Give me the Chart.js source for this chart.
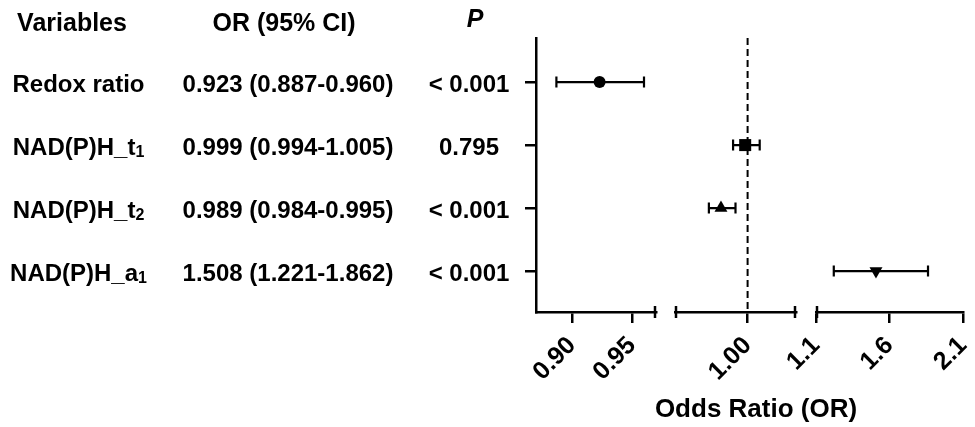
<!DOCTYPE html>
<html>
<head>
<meta charset="utf-8">
<script src="https://cdn.jsdelivr.net/npm/chart.js@4.4.0/dist/chart.umd.min.js"></script>
<style>
  html, body { margin: 0; padding: 0; background: #fff; }
  #wrap { width: 975px; height: 427px; position: relative; }
</style>
</head>
<body>
<div id="wrap"><canvas id="forest"></canvas></div>
<script>
// table rows
const variables = ['Redox ratio', 'NAD(P)H_t', 'NAD(P)H_t', 'NAD(P)H_a'];
const subscripts = ['', '1', '2', '1'];
const orValues = [0.923, 0.999, 0.989, 1.508];
const ciLower = [0.887, 0.994, 0.984, 1.221];
const ciUpper = [0.960, 1.005, 0.995, 1.862];
const pValues = ['< 0.001', '0.795', '< 0.001', '< 0.001'];
const markerStyles = ['circle', 'rect', 'triangle', 'triangle'];
const markerRotation = [0, 0, 0, 180];

// broken x axis, three pieces
const segMin = [0.87, 0.97, 1.1];
const segMax = [0.97, 1.02, 2.1];
const segTicks = [[0.90, 0.95], [1.00], [1.1, 1.6, 2.1]];
const segTickLabels = [['0.90', '0.95'], ['1.00'], ['1.1', '1.6', '2.1']];
const refLine = 1.0;

const FONT = "'Liberation Sans', Arial, sans-serif";
const markerSizes = [6, 8.5, 7.5, 7.5];

function segOf(v) {
    for (let s = 0; s < segMin.length; s++) {
        if (v >= segMin[s] && v <= segMax[s]) return s;
    }
    return segMin.length - 1;
}

// pieces + gaps laid side by side as one stack of bottom axes
const pieceWidths = [120, 19, 121, 20, 147];
const scales = {
    y: {
        type: 'linear',
        position: 'left',
        reverse: true,
        min: 0.3,
        max: 4.65,
        afterBuildTicks: s => { s.ticks = variables.map((v, i) => ({ value: i + 1 })); },
        afterFit: s => { s.width = 11; },
        ticks: { display: false },
        grid: { drawOnChartArea: false, tickLength: 11, lineWidth: 2.5, color: '#000' },
        border: { display: true, color: '#000', width: 2.5 }
    }
};

const xFit = s => { s.height = 115; s.paddingLeft = 0; s.paddingRight = 0; };
pieceWidths.forEach((pw, k) => {
    const isGap = k % 2 === 1;
    const s = k / 2;
    const id = isGap ? 'gap' + k : 'x' + s;
    scales[id] = isGap ? {
        type: 'linear', axis: 'x', position: 'bottom', stack: 'xs', stackWeight: pw, weight: k,
        min: 0, max: 1,
        afterFit: xFit,
        ticks: { display: false },
        grid: { display: false },
        border: { display: false }
    } : {
        type: 'linear', axis: 'x', position: 'bottom', stack: 'xs', stackWeight: pw, weight: k,
        min: segMin[s],
        max: segMax[s],
        afterBuildTicks: sc => { sc.ticks = segTicks[s].map(v => ({ value: v })); },
        afterFit: xFit,
        ticks: {
            autoSkip: false,
            minRotation: 45,
            maxRotation: 45,
            padding: 8,
            color: '#000',
            font: { family: FONT, size: 25, weight: 'bold' },
            callback: (value, index) => segTickLabels[s][index]
        },
        grid: { drawOnChartArea: false, tickLength: 11, lineWidth: 2.5, color: '#000' },
        border: { display: true, color: '#000', width: 2.5 }
    };
});

const datasets = segMin.map((mn, s) => ({
    type: 'scatter',
    xAxisID: 'x' + s,
    yAxisID: 'y',
    data: orValues.map((v, i) => ({ x: v, y: i + 1, lo: ciLower[i], hi: ciUpper[i], row: i }))
        .filter(p => segOf(p.x) === s),
    pointStyle: c => c.raw ? markerStyles[c.raw.row] : 'circle',
    rotation: c => c.raw ? markerRotation[c.raw.row] : 0,
    pointRadius: c => c.raw ? markerSizes[c.raw.row] : 6,
    backgroundColor: '#000',
    borderColor: '#000',
    borderWidth: 0
}));

// dashed line at OR = 1 and CI whiskers
const forestLines = {
    id: 'forestLines',
    beforeDatasetsDraw(chart) {
        const ctx = chart.ctx;
        const y = chart.scales.y;
        const area = chart.chartArea;
        ctx.save();
        ctx.strokeStyle = '#000';
        ctx.lineWidth = 2;

        const xr = chart.scales['x' + segOf(refLine)].getPixelForValue(refLine);
        ctx.setLineDash([7, 4]);
        ctx.beginPath();
        ctx.moveTo(xr, area.top);
        ctx.lineTo(xr, area.bottom);
        ctx.stroke();
        ctx.setLineDash([]);

        ctx.lineWidth = 2.2;
        chart.data.datasets.forEach(ds => {
            const xs = chart.scales[ds.xAxisID];
            ds.data.forEach(p => {
                const py = y.getPixelForValue(p.y);
                const x1 = xs.getPixelForValue(p.lo);
                const x2 = xs.getPixelForValue(p.hi);
                ctx.beginPath();
                ctx.moveTo(x1, py); ctx.lineTo(x2, py);
                ctx.moveTo(x1, py - 5.5); ctx.lineTo(x1, py + 5.5);
                ctx.moveTo(x2, py - 5.5); ctx.lineTo(x2, py + 5.5);
                ctx.stroke();
            });
        });
        ctx.restore();
    }
};

// end caps of the axis pieces, table on the left, axis title
const forestText = {
    id: 'forestText',
    afterDraw(chart) {
        const ctx = chart.ctx;
        const y = chart.scales.y;
        ctx.save();
        ctx.strokeStyle = '#000';
        ctx.lineWidth = 2.5;
        const caps = [['x0', 'right'], ['x1', 'left'], ['x1', 'right'], ['x2', 'left']];
        caps.forEach(([id, side]) => {
            const sc = chart.scales[id];
            const x = side === 'left' ? sc.left + 1 : sc.right - 1;
            ctx.beginPath();
            ctx.moveTo(x, sc.top - 6);
            ctx.lineTo(x, sc.top + 6);
            ctx.stroke();
        });

        const big = 'bold 24px ' + FONT;
        const small = 'bold 16px ' + FONT;
        ctx.fillStyle = '#000';
        ctx.textBaseline = 'alphabetic';
        ctx.textAlign = 'center';
        ctx.font = 'bold 25px ' + FONT;
        ctx.fillText('Variables', 72, 31);
        ctx.fillText('OR (95% CI)', 284, 31);
        ctx.font = 'italic bold 25px ' + FONT;
        ctx.fillText('P', 475, 27);

        variables.forEach((name, i) => {
            const base = y.getPixelForValue(i + 1) + 10;
            ctx.font = big;
            const w1 = ctx.measureText(name).width;
            ctx.font = small;
            const w2 = subscripts[i] ? ctx.measureText(subscripts[i]).width : 0;
            const x0 = 78.5 - (w1 + w2) / 2;
            ctx.textAlign = 'left';
            ctx.font = big;
            ctx.fillText(name, x0, base);
            if (subscripts[i]) {
                ctx.font = small;
                ctx.fillText(subscripts[i], x0 + w1, base + 2);
            }
            ctx.textAlign = 'center';
            ctx.font = big;
            const orText = orValues[i].toFixed(3) + ' (' + ciLower[i].toFixed(3) + '-' + ciUpper[i].toFixed(3) + ')';
            ctx.fillText(orText, 288, base);
            ctx.fillText(pValues[i], 469, base);
        });

        ctx.font = 'bold 26px ' + FONT;
        ctx.fillText('Odds Ratio (OR)', 756, 417);
        ctx.restore();
    }
};

new Chart(document.getElementById('forest'), {
    type: 'scatter',
    data: { datasets: datasets },
    options: {
        responsive: true,
        maintainAspectRatio: false,
        animation: false,
        layout: { padding: { left: 525, right: 12, top: 38, bottom: 0 } },
        plugins: { legend: { display: false }, tooltip: { enabled: false } },
        scales: scales
    },
    plugins: [forestLines, forestText]
});
</script>
</body>
</html>
